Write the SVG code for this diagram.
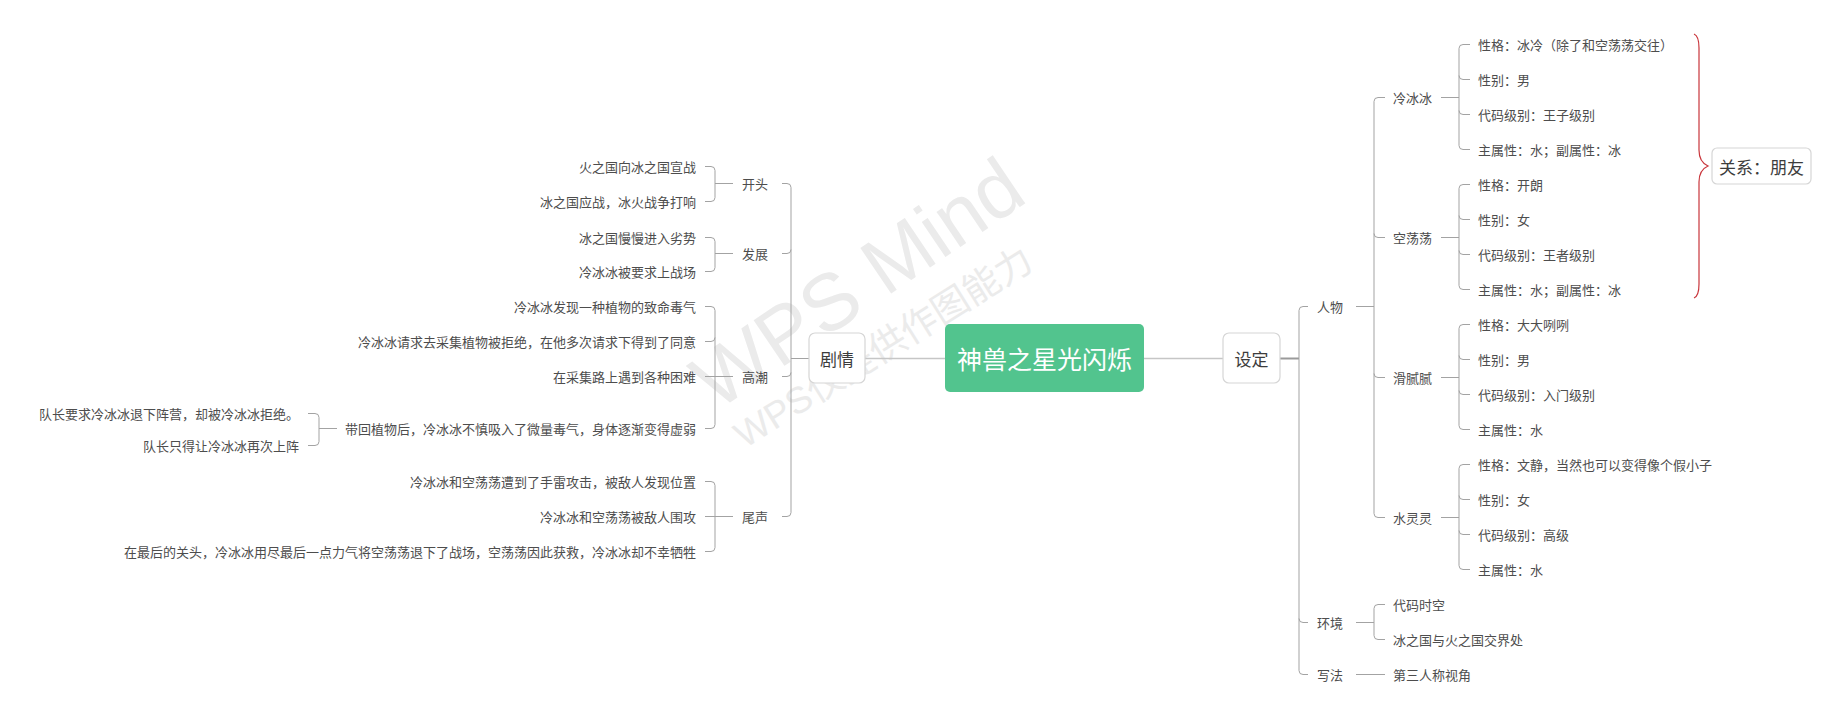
<svg xmlns="http://www.w3.org/2000/svg" width="1841" height="717" viewBox="0 0 1841 717">
<style>
.t{font-family:"Noto Sans CJK SC","Liberation Sans",sans-serif;font-size:13px;fill:#4d4d4d;dominant-baseline:central}
.e{text-anchor:end}
.m{text-anchor:middle}
.b{font-size:17px;fill:#3c3c3c}
.ln{fill:none;stroke:#a3a3a3;stroke-width:1}
.l1{fill:none;stroke:#c6c6c6;stroke-width:1.5}
.box{fill:#ffffff;stroke:#d6d6d6;stroke-width:1.2}
.wm{font-family:"Liberation Sans","Noto Sans CJK SC",sans-serif;fill:#ebebeb}
</style>
<rect width="1841" height="717" fill="#ffffff"/>
<g id="watermark">
<text class="wm" x="873" y="306" font-size="80" text-anchor="middle" transform="rotate(-34 873 306)">WPS Mind</text>
<text class="wm" x="890" y="358" font-size="37" text-anchor="middle" transform="rotate(-32 890 358)">WPS仅提供作图能力</text>
</g>
<g id="connectors">
<path class="l1" d="M945 358.5 H865"/>
<path class="l1" d="M1144 358.5 H1223"/>
<path fill="none" stroke="#9a9a9a" stroke-width="2" d="M1280 358.5 H1299"/>
<path class="ln" d="M1308 306.5 H1303 Q1299 306.5 1299 310.5 V670.5 Q1299 674.5 1303 674.5 H1308"/>
<path class="ln" d="M1299 618.5 Q1299 622.5 1303 622.5 H1308"/>
<path class="ln" d="M1356 306.5 H1374"/>
<path class="ln" d="M1385 97.5 H1378 Q1374 97.5 1374 101.5 V513.5 Q1374 517.5 1378 517.5 H1385"/>
<path class="ln" d="M1374 233.5 Q1374 237.5 1378 237.5 H1385"/>
<path class="ln" d="M1374 373.5 Q1374 377.5 1378 377.5 H1385"/>
<path class="ln" d="M1441 97.5 H1459"/>
<path class="ln" d="M1470 44.5 H1463 Q1459 44.5 1459 48.5 V145.5 Q1459 149.5 1463 149.5 H1470"/>
<path class="ln" d="M1459 75.5 Q1459 79.5 1463 79.5 H1470"/>
<path class="ln" d="M1459 110.5 Q1459 114.5 1463 114.5 H1470"/>
<path class="ln" d="M1441 237.5 H1459"/>
<path class="ln" d="M1470 184.5 H1463 Q1459 184.5 1459 188.5 V285.5 Q1459 289.5 1463 289.5 H1470"/>
<path class="ln" d="M1459 215.5 Q1459 219.5 1463 219.5 H1470"/>
<path class="ln" d="M1459 250.5 Q1459 254.5 1463 254.5 H1470"/>
<path class="ln" d="M1441 377.5 H1459"/>
<path class="ln" d="M1470 324.5 H1463 Q1459 324.5 1459 328.5 V425.5 Q1459 429.5 1463 429.5 H1470"/>
<path class="ln" d="M1459 355.5 Q1459 359.5 1463 359.5 H1470"/>
<path class="ln" d="M1459 390.5 Q1459 394.5 1463 394.5 H1470"/>
<path class="ln" d="M1441 517.5 H1459"/>
<path class="ln" d="M1470 464.5 H1463 Q1459 464.5 1459 468.5 V565.5 Q1459 569.5 1463 569.5 H1470"/>
<path class="ln" d="M1459 495.5 Q1459 499.5 1463 499.5 H1470"/>
<path class="ln" d="M1459 530.5 Q1459 534.5 1463 534.5 H1470"/>
<path class="ln" d="M1356 622.5 H1374"/>
<path class="ln" d="M1385 604.5 H1378 Q1374 604.5 1374 608.5 V635.5 Q1374 639.5 1378 639.5 H1385"/>
<path class="ln" d="M1356 674.5 H1385"/>
<path class="ln" d="M809 358.5 H791"/>
<path class="ln" d="M782 183.5 H787 Q791 183.5 791 187.5 V512.5 Q791 516.5 787 516.5 H782"/>
<path class="ln" d="M791 249.5 Q791 253.5 787 253.5 H782"/>
<path class="ln" d="M791 372.5 Q791 376.5 787 376.5 H782"/>
<path class="ln" d="M733 183.5 H715"/>
<path class="ln" d="M705 166.5 H711 Q715 166.5 715 170.5 V197.5 Q715 201.5 711 201.5 H705"/>
<path class="ln" d="M733 253.5 H715"/>
<path class="ln" d="M705 237.5 H711 Q715 237.5 715 241.5 V267.5 Q715 271.5 711 271.5 H705"/>
<path class="ln" d="M733 376.5 H705"/>
<path class="ln" d="M705 306.5 H711 Q715 306.5 715 310.5 V424.5 Q715 428.5 711 428.5 H705"/>
<path class="ln" d="M715 337.5 Q715 341.5 711 341.5 H705"/>
<path class="ln" d="M733 516.5 H705"/>
<path class="ln" d="M705 481.5 H711 Q715 481.5 715 485.5 V547.5 Q715 551.5 711 551.5 H705"/>
<path class="ln" d="M337 428.5 H319"/>
<path class="ln" d="M308 413.5 H315 Q319 413.5 319 417.5 V441.5 Q319 445.5 315 445.5 H308"/>
<path fill="none" stroke="#c9353b" stroke-width="1.2" d="M1694 34 Q1699 36 1699 48 V150 Q1699 162 1708 166 Q1699 170 1699 182 V284 Q1699 296 1694 298"/>
</g>
<g id="root">
<rect x="945" y="324" width="199" height="68" rx="5" fill="#52c48e"/>
<text class="t m" x="1044.5" y="358" style="font-size:25px;fill:#ffffff">神兽之星光闪烁</text>
</g>
<g id="n-juqing">
<rect class="box" x="809" y="333" width="56" height="50" rx="6"/>
<text class="t m b" x="837" y="358">剧情</text>
</g>
<g id="n-sheding">
<rect class="box" x="1223" y="333" width="57" height="50" rx="6"/>
<text class="t m b" x="1251.5" y="358">设定</text>
</g>
<g id="n-guanxi">
<rect class="box" x="1712" y="148" width="99" height="36" rx="5"/>
<text class="t m b" x="1761.5" y="166">关系：朋友</text>
</g>
<g id="n-kaitou"><text class="t" x="742" y="183">开头</text></g>
<g id="n-fazhan"><text class="t" x="742" y="253">发展</text></g>
<g id="n-gaochao"><text class="t" x="742" y="376">高潮</text></g>
<g id="n-weisheng"><text class="t" x="742" y="516">尾声</text></g>
<g id="n-k1"><text class="t e" x="696" y="166">火之国向冰之国宣战</text></g>
<g id="n-k2"><text class="t e" x="696" y="201">冰之国应战，冰火战争打响</text></g>
<g id="n-f1"><text class="t e" x="696" y="237">冰之国慢慢进入劣势</text></g>
<g id="n-f2"><text class="t e" x="696" y="271">冷冰冰被要求上战场</text></g>
<g id="n-g1"><text class="t e" x="696" y="306">冷冰冰发现一种植物的致命毒气</text></g>
<g id="n-g2"><text class="t e" x="696" y="341">冷冰冰请求去采集植物被拒绝，在他多次请求下得到了同意</text></g>
<g id="n-g3"><text class="t e" x="696" y="376">在采集路上遇到各种困难</text></g>
<g id="n-g4"><text class="t e" x="696" y="428">带回植物后，冷冰冰不慎吸入了微量毒气，身体逐渐变得虚弱</text></g>
<g id="n-g4a"><text class="t e" x="299" y="413">队长要求冷冰冰退下阵营，却被冷冰冰拒绝。</text></g>
<g id="n-g4b"><text class="t e" x="299" y="445">队长只得让冷冰冰再次上阵</text></g>
<g id="n-w1"><text class="t e" x="696" y="481">冷冰冰和空荡荡遭到了手雷攻击，被敌人发现位置</text></g>
<g id="n-w2"><text class="t e" x="696" y="516">冷冰冰和空荡荡被敌人围攻</text></g>
<g id="n-w3"><text class="t e" x="696" y="551">在最后的关头，冷冰冰用尽最后一点力气将空荡荡退下了战场，空荡荡因此获救，冷冰冰却不幸牺牲</text></g>
<g id="n-renwu"><text class="t" x="1317" y="306">人物</text></g>
<g id="n-huanjing"><text class="t" x="1317" y="622">环境</text></g>
<g id="n-xiefa"><text class="t" x="1317" y="674">写法</text></g>
<g id="n-lbb"><text class="t" x="1393" y="97">冷冰冰</text></g>
<g id="n-kdd"><text class="t" x="1393" y="237">空荡荡</text></g>
<g id="n-hnn"><text class="t" x="1393" y="377">滑腻腻</text></g>
<g id="n-sll"><text class="t" x="1393" y="517">水灵灵</text></g>
<g id="n-lbb1"><text class="t" x="1478" y="44">性格：冰冷（除了和空荡荡交往）</text></g>
<g id="n-lbb2"><text class="t" x="1478" y="79">性别：男</text></g>
<g id="n-lbb3"><text class="t" x="1478" y="114">代码级别：王子级别</text></g>
<g id="n-lbb4"><text class="t" x="1478" y="149">主属性：水；副属性：冰</text></g>
<g id="n-kdd1"><text class="t" x="1478" y="184">性格：开朗</text></g>
<g id="n-kdd2"><text class="t" x="1478" y="219">性别：女</text></g>
<g id="n-kdd3"><text class="t" x="1478" y="254">代码级别：王者级别</text></g>
<g id="n-kdd4"><text class="t" x="1478" y="289">主属性：水；副属性：冰</text></g>
<g id="n-hnn1"><text class="t" x="1478" y="324">性格：大大咧咧</text></g>
<g id="n-hnn2"><text class="t" x="1478" y="359">性别：男</text></g>
<g id="n-hnn3"><text class="t" x="1478" y="394">代码级别：入门级别</text></g>
<g id="n-hnn4"><text class="t" x="1478" y="429">主属性：水</text></g>
<g id="n-sll1"><text class="t" x="1478" y="464">性格：文静，当然也可以变得像个假小子</text></g>
<g id="n-sll2"><text class="t" x="1478" y="499">性别：女</text></g>
<g id="n-sll3"><text class="t" x="1478" y="534">代码级别：高级</text></g>
<g id="n-sll4"><text class="t" x="1478" y="569">主属性：水</text></g>
<g id="n-hj1"><text class="t" x="1393" y="604">代码时空</text></g>
<g id="n-hj2"><text class="t" x="1393" y="639">冰之国与火之国交界处</text></g>
<g id="n-xf1"><text class="t" x="1393" y="674">第三人称视角</text></g>
</svg>
